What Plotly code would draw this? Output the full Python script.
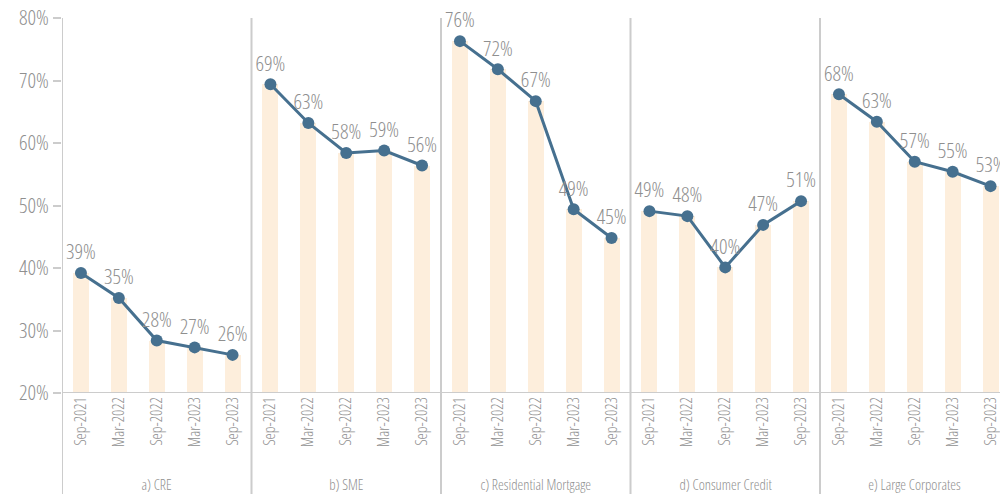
import plotly.graph_objects as go

panels = ["a) CRE", "b) SME", "c) Residential Mortgage", "d) Consumer Credit", "e) Large Corporates"]
dates = ["Sep-2021", "Mar-2022", "Sep-2022", "Mar-2023", "Sep-2023"]
cre = [39.2, 35.2, 28.4, 27.3, 26.1]
sme = [69.4, 63.2, 58.4, 58.8, 56.4]
resid = [76.3, 71.8, 66.7, 49.4, 44.8]
consumer = [49.1, 48.3, 40.1, 46.9, 50.7]
large = [67.8, 63.4, 57.0, 55.4, 53.1]
series = [cre, sme, resid, consumer, large]
yticks = [20, 30, 40, 50, 60, 70, 80]

FONT = "Open Sans, Roboto, sans-serif"
GRAY = "#8f8f8f"
LINEC = "#cccccc"
BAR = "#fdeedc"
LINE = "#46708f"

fig = go.Figure()
n = len(dates)
for k, vals in enumerate(series):
    xs = [k * n + i + 0.5 for i in range(n)]
    fig.add_trace(go.Bar(x=xs, y=vals, width=0.42, marker=dict(color=BAR, line=dict(width=0)),
                         showlegend=False, hoverinfo="skip"))
for k, vals in enumerate(series):
    xs = [k * n + i + 0.5 for i in range(n)]
    fig.add_trace(go.Scatter(x=xs, y=vals, mode="lines+markers+text",
                             line=dict(color=LINE, width=3),
                             marker=dict(color=LINE, size=12),
                             texttemplate="%{y:.0f}%", textposition="top center",
                             textfont=dict(family=FONT, size=21, color=GRAY, weight=300),
                             cliponaxis=False, showlegend=False))

tickvals = [k * n + i + 0.5 for k in range(len(panels)) for i in range(n)]
ticktext = [d for k in range(len(panels)) for d in dates]

total = n * len(panels)
fig.update_xaxes(range=[0, total * 938 / 947.5], tickvals=tickvals, ticktext=ticktext,
                 tickangle=-90, tickfont=dict(family=FONT, size=15.5, color=GRAY, weight=300),
                 ticklabeloverflow="allow",
                 showgrid=False, zeroline=False, showline=False, ticks="")
fig.update_yaxes(range=[20, 80], tickvals=yticks, ticktext=[f"{v}%" for v in yticks],
                 tickfont=dict(family=FONT, size=21, color=GRAY, weight=300),
                 showgrid=False, zeroline=False, showline=False,
                 ticks="outside", ticklen=8, tickcolor=LINEC, tickwidth=1.5)

fig.add_shape(type="line", xref="paper", yref="y", x0=0, x1=1, y0=20, y1=20,
              line=dict(color=LINEC, width=2))
for k in range(len(panels)):
    fig.add_shape(type="line", xref="x", yref="paper", x0=k * n, x1=k * n, y0=1, y1=-0.28,
                  line=dict(color=LINEC, width=2))
    fig.add_annotation(x=k * n + n / 2, xref="x", y=-0.245, yref="paper", text=panels[k],
                       showarrow=False, yanchor="middle",
                       font=dict(family=FONT, size=14.5, color=GRAY, weight=300))

fig.update_layout(width=1000, height=494, margin=dict(l=62, r=0, t=18, b=101),
                  plot_bgcolor="white", paper_bgcolor="white", bargap=0)

post = ("document.body.style.margin='0';"
        "var gd=document.getElementById('{plot_id}');"
        "gd.querySelectorAll('text').forEach(function(t){t.style.fontStretch='75%';});")
fig.write_html("out.html", post_script=post, config={"displayModeBar": False})
